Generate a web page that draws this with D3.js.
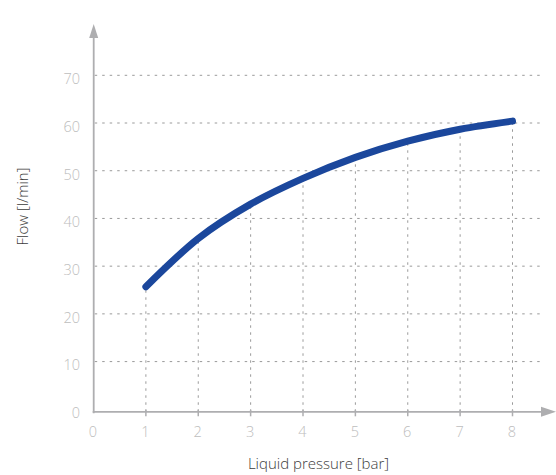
<!DOCTYPE html>
<html>
<head>
<meta charset="utf-8">
<script src="https://cdn.jsdelivr.net/npm/d3@7"></script>
<style>
  html, body { margin: 0; padding: 0; background: #fff; }
  svg { display: block; }
  text { font-family: "Open Sans", "Helvetica Neue", "Liberation Sans", Arial, sans-serif; }
</style>
</head>
<body>
<div id="chart"></div>
<script>
// ---- data ----
const pressure = [1, 2, 3, 4, 5, 6, 7, 8];
const flow = [25.7, 35.8, 43.0, 48.4, 52.8, 56.2, 58.7, 60.4];
const xTicks = [0, 1, 2, 3, 4, 5, 6, 7, 8];
const yTicks = [0, 10, 20, 30, 40, 50, 60, 70];
const xTitle = "Liquid pressure [bar]";
const yTitle = "Flow [l/min]";

// ---- layout ----
const W = 556, H = 475;
const svg = d3.select("#chart").append("svg").attr("width", W).attr("height", H);

const x = d3.scaleLinear().domain([0, 8]).range([93.5, 512.5]);
const y = d3.scaleLinear().domain([0, 70]).range([409.3, 75.3]);

const axisColor = "#aeaeb0";
const gridColor = "#9a9a9a";
const labelColor = "#bdbdbd";
const axisY = 411.8;
const axisX = 93.7;
const gridRight = 541;

// horizontal grid lines
svg.append("g").selectAll("line").data(yTicks.filter(d => d > 0)).join("line")
  .attr("x1", axisX + 1).attr("x2", gridRight)
  .attr("y1", d => y(d)).attr("y2", d => y(d))
  .attr("stroke", gridColor).attr("stroke-width", 1)
  .attr("stroke-dasharray", "2.5,5");

// vertical grid lines up to the curve (at each integer tick)
const flowAt = p => flow[pressure.indexOf(p)];
svg.append("g").selectAll("line").data(xTicks.filter(d => pressure.includes(d))).join("line")
  .attr("x1", d => x(d)).attr("x2", d => x(d))
  .attr("y1", axisY).attr("y2", d => y(flowAt(d)))
  .attr("stroke", gridColor).attr("stroke-width", 1)
  .attr("stroke-dasharray", "2.5,4.5");

// x axis line + arrow
svg.append("line").attr("x1", axisX - 1).attr("x2", 543).attr("y1", axisY).attr("y2", axisY)
  .attr("stroke", axisColor).attr("stroke-width", 1.8);
svg.append("path").attr("d", `M541,${axisY - 5}L556,${axisY}L541,${axisY + 5}Z`).attr("fill", axisColor);

// x tick marks
svg.append("g").selectAll("line").data(xTicks.filter(d => d > 0)).join("line")
  .attr("x1", d => x(d)).attr("x2", d => x(d))
  .attr("y1", axisY - 2).attr("y2", axisY + 4.5)
  .attr("stroke", axisColor).attr("stroke-width", 1.5);

// y axis line + arrow
svg.append("line").attr("x1", axisX).attr("x2", axisX).attr("y1", axisY + 1.5).attr("y2", 36)
  .attr("stroke", axisColor).attr("stroke-width", 1.8);
svg.append("path").attr("d", `M${axisX - 4.5},38L${axisX},24L${axisX + 4.5},38Z`).attr("fill", axisColor);

// tick labels
svg.append("g").selectAll("text").data(yTicks).join("text")
  .attr("x", 80).attr("y", d => y(d) + 3.4)
  .attr("text-anchor", "end").attr("dominant-baseline", "central")
  .attr("font-size", 14.5).attr("font-weight", 300).attr("fill", labelColor)
  .text(d => d);

svg.append("g").selectAll("text").data(xTicks).join("text")
  .attr("x", d => x(d) - 0.5).attr("y", 431.5)
  .attr("text-anchor", "middle").attr("dominant-baseline", "central")
  .attr("font-size", 14.5).attr("font-weight", 300).attr("fill", labelColor)
  .text(d => d);

// axis titles
svg.append("text").attr("x", 318.5).attr("y", 469)
  .attr("text-anchor", "middle").attr("font-size", 15).attr("font-weight", 300)
  .attr("fill", "#3c3c3c").text(xTitle);
svg.append("text").attr("transform", "translate(27.5,206.5) rotate(-90)")
  .attr("text-anchor", "middle").attr("font-size", 15).attr("font-weight", 300)
  .attr("fill", "#3c3c3c").text(yTitle);

// curve
const line = d3.line().x((d, i) => x(pressure[i])).y(d => y(d)).curve(d3.curveMonotoneX);
svg.append("path").datum(flow).attr("d", line)
  .attr("fill", "none").attr("stroke", "#1b479c").attr("stroke-width", 7)
  .attr("stroke-linecap", "round").attr("stroke-linejoin", "round");
</script>
</body>
</html>
